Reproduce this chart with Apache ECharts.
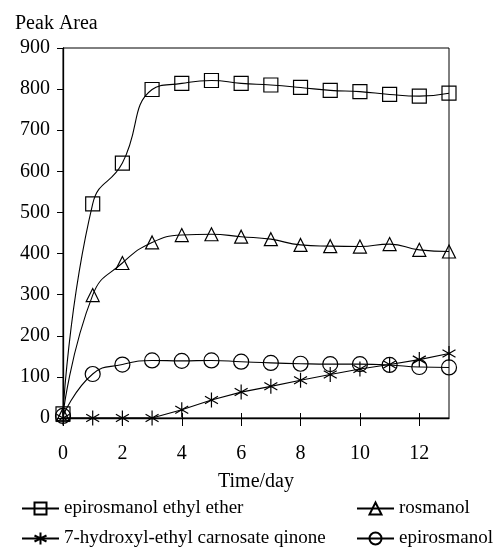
<!DOCTYPE html>
<html><head><meta charset="utf-8">
<script src="https://cdn.jsdelivr.net/npm/echarts@6/dist/echarts.min.js"></script>
<style>html,body{margin:0;padding:0;background:#fff}#c{width:497px;height:558px}</style>
</head><body><div id="c"></div>
<script>
const days = [0,1,2,3,4,5,6,7,8,9,10,11,12,13];
const xTicks = [0,2,4,6,8,10,12];
const etherVals = [10,521,620,799,814,821,814,810,804,797,794,787,783,790];
const rosmanolVals = [8,299,377,427,445,447,441,435,421,418,417,423,409,405];
const quinoneVals = [0,0,0,0,20,44,63,77,92,106,119,130,142,157];
const epiVals = [5,107,130,140,139,140,137,134,132,131,131,129,124,123];
const names = ['epirosmanol ethyl ether','rosmanol','7-hydroxyl-ethyl carnosate qinone','epirosmanol'];

const pairs = v => days.map((d,i)=>[d,v[i]]);
const font = 'Liberation Serif';
const star = 'path://M0,-10L0,10M-8.66,-5L8.66,5M-8.66,5L8.66,-5';
const mk = (name, vals, symbol, size, smooth) => ({
  name, type:'line', data: pairs(vals), smooth, symbol, symbolSize:size, symbolKeepAspect:true,
  lineStyle:{color:'#000', width:1.1},
  itemStyle:{color:'rgba(0,0,0,0)', borderColor:'#000', borderWidth:1.2},
  emphasis:{disabled:true}, animation:false, z:3
});
const chart = echarts.init(document.getElementById('c'));
chart.setOption({
  backgroundColor:'#fff',
  animation:false,
  textStyle:{fontFamily:font, color:'#000'},
  title:{text:'Peak Area', left:10, top:9, textStyle:{fontFamily:font, fontSize:20, fontWeight:'normal', color:'#000'}},
  grid:{left:63, right:48, top:48, bottom:140, show:true, borderColor:'#000', borderWidth:1, backgroundColor:'transparent'},
  xAxis:[{
    type:'value', min:0, max:13, interval:1,
    name:'Time/day', nameLocation:'middle', nameGap:54,
    nameTextStyle:{fontFamily:font, fontSize:20, color:'#000'},
    axisLine:{lineStyle:{color:'#000', width:1.3}},
    axisTick:{customValues:xTicks, length:8, lineStyle:{color:'#000'}},
    axisLabel:{customValues:xTicks, margin:26, fontFamily:font, fontSize:20, color:'#000'},
    splitLine:{show:false}
  },{
    type:'value', min:0, max:13, position:'bottom',
    axisLine:{show:false},
    axisTick:{customValues:xTicks, inside:true, length:5, lineStyle:{color:'#000'}},
    axisLabel:{show:false}, splitLine:{show:false}
  }],
  yAxis:{
    type:'value', min:0, max:900, interval:100,
    axisLine:{show:true, lineStyle:{color:'#000', width:1.3}},
    axisTick:{show:true, length:6, lineStyle:{color:'#000'}},
    axisLabel:{margin:13, fontFamily:font, fontSize:20, color:'#000'},
    splitLine:{show:false}
  },
  legend:[{
    data:[names[0], names[2]], orient:'vertical', left:16, top:494, itemWidth:37, itemHeight:15, itemGap:11,
    textStyle:{fontFamily:font, fontSize:19, color:'#000'}, selectedMode:false
  },{
    data:[names[1], names[3]], orient:'vertical', left:351, top:494, itemWidth:37, itemHeight:15, itemGap:11,
    textStyle:{fontFamily:font, fontSize:19, color:'#000'}, selectedMode:false
  }],
  series:[
    mk(names[0], etherVals, 'rect', 14, 0.5),
    mk(names[1], rosmanolVals, 'triangle', 13, 0.5),
    mk(names[2], quinoneVals, star, 15, false),
    mk(names[3], epiVals, 'circle', 15, 0.5)
  ]
});
</script></body></html>
